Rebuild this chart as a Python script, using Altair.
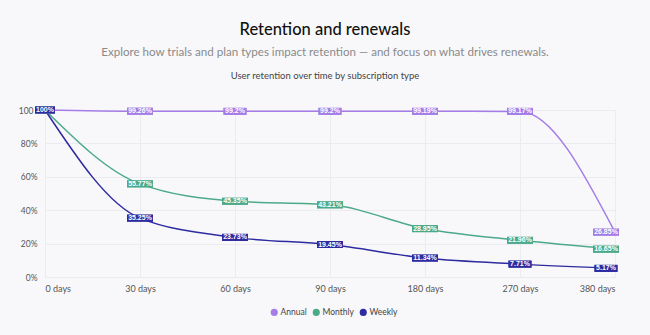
import altair as alt
import pandas as pd

days = ["0 days", "30 days", "60 days", "90 days", "180 days", "270 days", "380 days"]
series = ["Annual", "Monthly", "Weekly"]
annual = [100, 99.26, 99.2, 99.2, 99.19, 99.17, 26.85]
monthly = [100, 55.77, 45.35, 43.21, 28.95, 21.96, 16.65]
weekly = [100, 35.25, 23.73, 19.45, 11.34, 7.71, 5.17]
colors = ["#a57de6", "#4caa8a", "#2e2aa0"]

title = "Retention and renewals"
subtitle = "Explore how trials and plan types impact retention \u2014 and focus on what drives renewals."
caption = "User retention over time by subscription type"

rows = []
for s, vals in zip(series, [annual, monthly, weekly]):
    for i, (d, v) in enumerate(zip(days, vals)):
        lab = f"{v:g}%"
        rows.append({"series": s, "idx": i, "day": d, "value": v,
                     "label": lab, "len": len(lab), "last": i == len(days) - 1})
df = pd.DataFrame(rows)

W, H = 570, 167
FONT = "Lato"
BOXFONT = "Liberation Sans"

label_expr = "[" + ",".join(f"'{d}'" for d in days) + "][datum.value]"

x = alt.X("idx:Q", scale=alt.Scale(domain=[0, len(days) - 1], nice=False, zero=False),
          axis=alt.Axis(values=list(range(len(days))), labelExpr=label_expr, title=None,
                        labelPadding=7, labelFontSize=9, labelColor="#555", labelFont=FONT,
                        grid=True, gridColor="#ebebf0", domain=False, ticks=False, zindex=0))
y = alt.Y("value:Q", scale=alt.Scale(domain=[0, 100], nice=False),
          axis=alt.Axis(values=[0, 20, 40, 60, 80, 100],
                        labelExpr="datum.value == 100 ? '100' : datum.value + '%'", title=None,
                        labelPadding={"condition": {"test": "datum.value == 100", "value": 12},
                                      "value": 8},
                        labelFontSize=8.5, labelColor="#555", labelFont=FONT,
                        grid=True, gridColor="#ebebf0", domain=False, ticks=False, zindex=0))
color_scale = alt.Scale(domain=series, range=colors)
legend = alt.Legend(orient="none", legendX=225, legendY=198, title=None, symbolType="circle",
                    symbolSize=50, labelFontSize=8.5, labelColor="#444", labelFont=FONT,
                    labelOffset=2, columnPadding=5, symbolStrokeWidth=0, direction="horizontal")
color = alt.Color("series:N", scale=color_scale, legend=legend)

base = alt.Chart(df)
widths = {4: 20, 5: 23, 6: 26}


def box_layers():
    out = []
    for L, w in widths.items():
        for is_last, shift in [(False, 0), (True, -9)]:
            flt = f"datum.len == {L} && datum.last == {'true' if is_last else 'false'}"
            out.append(base.transform_filter(flt).mark_rect(width=w, height=7, xOffset=shift)
                       .encode(x=x, y=y, color=color))
    return out


lines = base.mark_line(interpolate="monotone", strokeWidth=1.5).encode(
    x=x, y=y, color=color, detail="series:N")

layers = box_layers() + [lines] + box_layers()

# at 0 days all series share 100%: only the top (Weekly) label is visible
visible = f"datum.idx > 0 || datum.series == '{series[-1]}'"
for is_last, shift in [(False, 0), (True, -9)]:
    flt = f"({visible}) && datum.last == {'true' if is_last else 'false'}"
    t = base.transform_filter(flt).mark_text(fontSize=7, fontWeight="bold", color="white",
                                            font=BOXFONT, dx=shift, baseline="middle").encode(
        x=x, y=y, text="label:N")
    layers.append(t)

cap = alt.Chart(pd.DataFrame({"t": [caption]})).mark_text(
    fontSize=9.5, color="#444", font=FONT, baseline="middle", align="center").encode(
    x=alt.value(280), y=alt.value(-34), text="t:N")
layers.append(cap)

chart = alt.layer(*layers).properties(
    width=W, height=H,
    title=alt.TitleParams(text=title, subtitle=subtitle, anchor="middle", fontSize=16.5,
                          fontWeight=500, color="#111", font=FONT, subtitleFont=FONT,
                          subtitleFontSize=11.6, subtitleColor="#8a8a8a", subtitlePadding=9,
                          offset=12, dx=-5),
    autosize=alt.AutoSizeParams(type="none"),
    padding={"left": 45, "top": 110, "right": 35, "bottom": 58},
    background="#f8f8fa",
).configure_view(stroke=None)

chart.save("out.html", embed_options={"renderer": "svg", "actions": False})
